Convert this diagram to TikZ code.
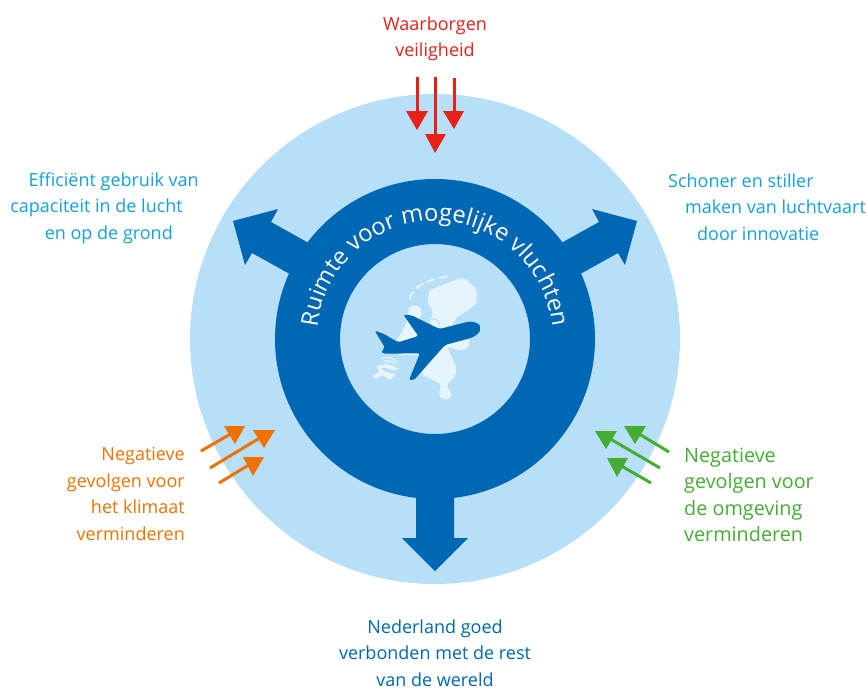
\documentclass[tikz,border=0pt]{standalone}
\usepackage{fontspec}
\setmainfont{Open Sans}
\usetikzlibrary{decorations.text}
\definecolor{lightb}{HTML}{B8DFF8}
\definecolor{darkb}{HTML}{0067B4}
\definecolor{mapb}{HTML}{E6F4FD}
\definecolor{cyant}{HTML}{14A0DE}
\definecolor{redc}{HTML}{E6211A}
\definecolor{orangec}{HTML}{EE7203}
\definecolor{greenc}{HTML}{45AC34}
\tikzset{
  lbl/.style={inner sep=0pt,font=\fontsize{18}{26.5}\selectfont},
  lblbig/.style={inner sep=0pt,font=\fontsize{19.8}{26.5}\selectfont},
  shaft/.style={line width=3pt},
  bigarrow/.style={fill=darkb,draw=none},
}
\newcommand{\pfeil}[6]{% colour, start, head a, head b, tip, shaft end
  \fill[#1] #3 -- #4 -- #5 -- cycle;
  \draw[shaft,draw=#1] #2 -- #6;
}
\begin{document}
\begin{tikzpicture}[x=1pt,y=-1pt]
\useasboundingbox (0,0) rectangle (866,689);
\coordinate (c) at (435,339);
\fill[lightb] (c) circle[radius=245pt];
% big arrows
\fill[bigarrow] (416,480) -- (416,538) -- (402,538) -- (435,571) -- (468,538) -- (454,538) -- (454,480) -- cycle;
\fill[bigarrow] (320,250) -- (307,242) -- (271,222) -- (278,209) -- (233,221) -- (245,265) -- (252,253) -- (288,273) -- (300,280) -- cycle;
\fill[bigarrow] (550,250) -- (563,242) -- (599,222) -- (592,209) -- (637,221) -- (625,265) -- (618,253) -- (582,273) -- (570,280) -- cycle;
% ring
\fill[darkb,even odd rule] (c) circle[radius=160pt] (c) circle[radius=95pt];
% curved text
\path[postaction={decorate,decoration={text along path,text align=center,
  text={|\fontsize{23.6}{24}\selectfont\color{white}|Ruimte voor mogelijke vluchten}}}]
  (c) ++(190:118pt) arc[start angle=190,end angle=-10,radius=118pt];
% map + plane
\begin{scope}[shift={(340,240)},x=0.3333pt,y=-0.3333pt]
  \fill[mapb,rounded corners=2pt] (268,150) -- (362,114) -- (378,118) -- (410,148) -- (410,190) -- (385,210) -- (350,232) -- (332,262) -- (390,295) -- (385,320) -- (365,332) -- (322,320) -- (350,385) -- (345,410) -- (320,435) -- (336,465) -- (328,478) -- (305,478) -- (297,462) -- (303,432) -- (248,405) -- (240,340) -- (290,262) -- (300,262) -- (300,245) -- (285,232) -- (268,240) -- (280,225) -- (272,200) -- (262,190) -- cycle;
  \fill[mapb,rounded corners=2pt] (210,197) -- (238,197) -- (247,225) -- (222,250) -- (240,290) -- (240,345) -- (170,345) -- (165,310) -- (195,260) -- cycle;
  \fill[mapb] (268,243) .. controls (285,230) and (300,245) .. (298,262) -- (280,262) -- cycle;
  \fill[mapb,rounded corners=1pt] (108,378) -- (140,372) -- (178,385) -- (165,392) -- (130,382) -- (120,385) -- (145,398) -- (168,402) -- (150,422) -- (128,405) -- (108,418) -- (97,408) -- (118,395) -- cycle;
  \draw[mapb,line width=1.3pt,line cap=round] (125,355) .. controls (145,348) and (160,355) .. (172,365);
  \draw[mapb,line width=1.3pt,line cap=round] (130,365) .. controls (145,360) and (155,362) .. (165,372);
  \draw[mapb,line width=1.8pt,dash pattern=on 9pt off 3.5pt] (210,178) .. controls (215,140) and (265,118) .. (326,109);
  \fill[darkb,rounded corners=2pt] (420,265) .. controls (420,250) and (400,245) .. (385,245) -- (298,267) -- (215,226) -- (190,224) -- (235,288) -- (175,307) -- (130,281) -- (104,272) -- (135,323) -- (124,335) -- (130,341) -- (240,340) -- (207,420) -- (222,420) -- (315,315) -- (385,296) .. controls (405,290) and (420,278) .. (420,265) -- cycle;
\end{scope}
% small arrows
\pfeil{redc}{(417,77)}{(406,111)}{(428,111)}{(417,130)}{(417,115)}
\pfeil{redc}{(435,77)}{(425,134)}{(446,134)}{(435,153)}{(435,138)}
\pfeil{redc}{(454,78)}{(443,111)}{(464,111)}{(454,129)}{(454,115)}
\pfeil{orangec}{(201,451)}{(224,426)}{(245,426)}{(235,444)}{(234,432)}
\pfeil{orangec}{(210,468)}{(253,430)}{(275,430)}{(264,448)}{(263,436)}
\pfeil{orangec}{(219,483)}{(243,457)}{(264,457)}{(253,476)}{(252,463)}
\pfeil{greenc}{(660,468)}{(595,431)}{(617,431)}{(606,449)}{(607,437)}
\pfeil{greenc}{(669,452)}{(624,426)}{(646,426)}{(635,444)}{(636,432)}
\pfeil{greenc}{(651,483)}{(607,458)}{(628,458)}{(617,477)}{(618,464)}
% labels
\node[lbl,text=redc,align=center] (veil) at (435,39) {Waarborgen\\veiligheid};
\node[lbl,text=cyant,align=right,anchor=east] (eff) at (199,208) {Efficiënt gebruik van\\capaciteit in de lucht\rule{16pt}{0pt}\\en op de grond\rule{26pt}{0pt}};
\node[lbl,text=cyant,align=left,anchor=west] (sch) at (668,207) {Schoner en stiller\\\rule{17pt}{0pt}maken van luchtvaart\\\rule{29pt}{0pt}door innovatie};
\node[lbl,text=orangec,align=right,anchor=east] (neg1) at (185,494) {Negatieve\\gevolgen voor\\het klimaat\\verminderen};
\node[lblbig,text=greenc,align=left,anchor=west] (neg2) at (684,495) {Negatieve\\gevolgen voor\\de omgeving\\verminderen};
\node[lbl,text=darkb,align=center] (ned) at (435,653) {Nederland goed\\verbonden met de rest\\van de wereld};
\end{tikzpicture}
\end{document}
